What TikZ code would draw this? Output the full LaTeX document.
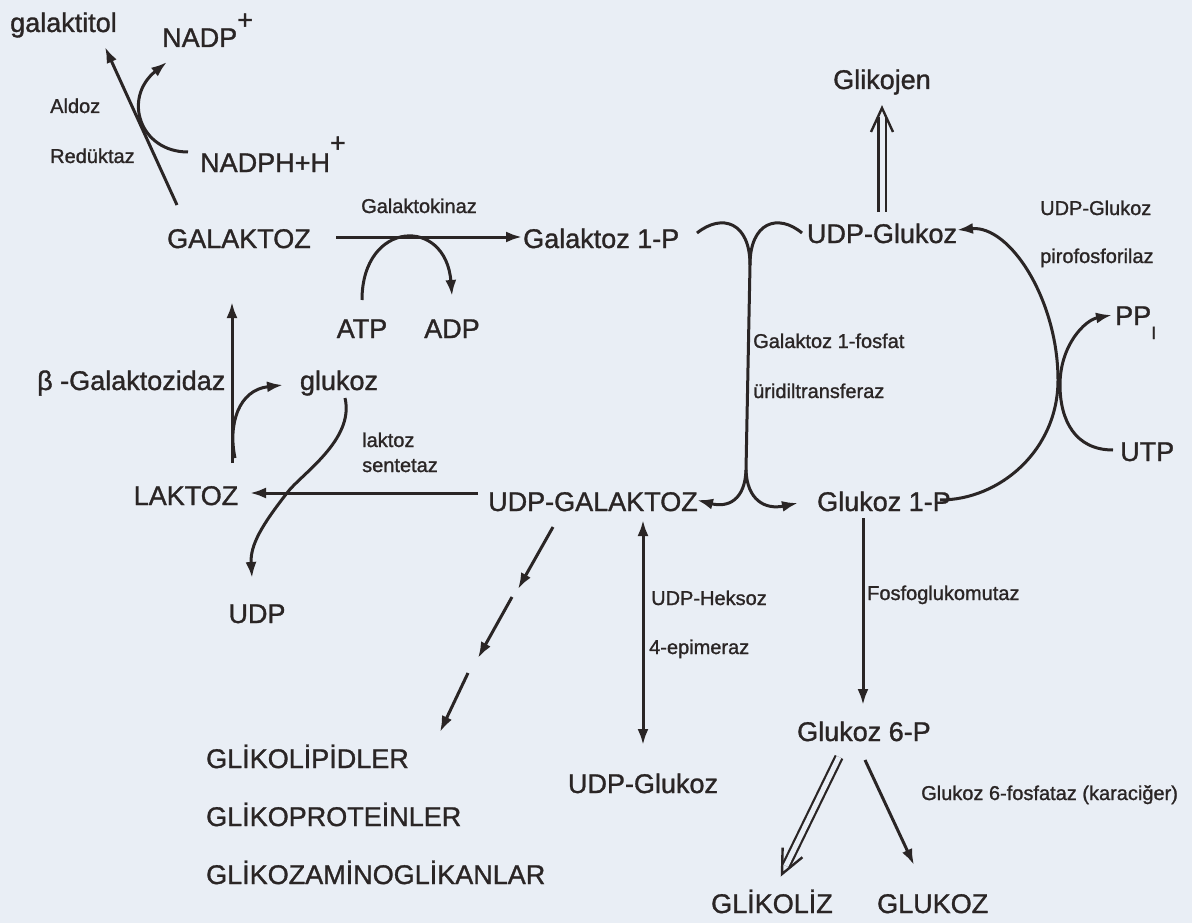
\documentclass[tikz,border=0pt]{standalone}
\usepackage{fontspec}
\setmainfont{Liberation Sans}[FakeBold=1.2]
\usetikzlibrary{arrows.meta,calc}
\definecolor{paper}{RGB}{233,238,245}
\definecolor{ink}{RGB}{42,37,37}
\begin{document}
\begin{tikzpicture}[x=1pt,y=-1pt,
  big/.style={font=\fontsize{27}{29}\selectfont, text=ink, inner sep=0pt},
  small/.style={font=\fontsize{20}{22}\selectfont, text=ink, inner sep=0pt},
  ln/.style={draw=ink, line width=3pt},
  arr/.style={ln, -{Latex[length=16pt,width=11pt]}},
  dblline/.style={draw=ink, line width=2.2pt, double=paper, double distance=5pt},
  chev/.style={draw=ink, line width=2.4pt, line join=miter},
]
\fill[paper] (0,0) rectangle (1192,923);
\useasboundingbox (0,0) rectangle (1192,923);

% ---------- texts ----------
\node[big,anchor=base west] (galaktitol) at (10,32) {galaktitol};
\node[big,anchor=base west] (nadp) at (162,47) {NADP\raisebox{18pt}{+}};
\node[small,anchor=base west] (aldoz) at (50,113) {Aldoz};
\node[small,anchor=base west] (reduktaz) at (50,163) {Redüktaz};
\node[big,anchor=base west] (nadph) at (200,172) {NADPH+H\raisebox{20pt}{+}};
\node[big,anchor=base] (glikojen) at (882,89) {Glikojen};
\node[big,anchor=base] (udpgluA) at (882,243) {UDP-Glukoz};
\node[small,anchor=base west] (pyro1) at (1040,215) {UDP-Glukoz};
\node[small,anchor=base west] (pyro2) at (1040,263) {pirofosforilaz};
\node[big,anchor=base west] (galaktoz) at (167,248) {GALAKTOZ};
\node[small,anchor=base] (gkinaz) at (419,213) {Galaktokinaz};
\node[big,anchor=base west] (gal1p) at (523,248) {Galaktoz 1-P};
\node[big,anchor=base] (atp) at (362,338) {ATP};
\node[big,anchor=base] (adp) at (452,338) {ADP};
\node[big,anchor=base west] (bgal) at (37,390) {β -Galaktozidaz};
\node[big,anchor=base] (glukoz) at (339,390) {glukoz};
\node[small,anchor=base west] (lsent1) at (362,447) {laktoz};
\node[small,anchor=base west] (lsent2) at (362,472) {sentetaz};
\node[big,anchor=base] (laktoz) at (186,505) {LAKTOZ};
\node[big,anchor=base west] (udpgal) at (488,511) {UDP-GALAKTOZ};
\node[small,anchor=base west] (gt1) at (753,348) {Galaktoz 1-fosfat};
\node[small,anchor=base west] (gt2) at (753,398) {üridiltransferaz};
\node[big,anchor=base west] (glu1p) at (817,511) {Glukoz 1-P};
\node[big,anchor=base west] (ppi) at (1115,325) {PP\raisebox{-14pt}{\fontsize{18}{18}\selectfont I}};
\node[big,anchor=base west] (utp) at (1120,461) {UTP};
\node[big,anchor=base] (udp) at (257,623) {UDP};
\node[small,anchor=base west] (ep1) at (651,605) {UDP-Heksoz};
\node[small,anchor=base west] (ep2) at (649,654) {4-epimeraz};
\node[small,anchor=base west] (pgm) at (867,600) {Fosfoglukomutaz};
\node[big,anchor=base west] (glu6p) at (797,741) {Glukoz 6-P};
\node[big,anchor=base] (udpgluB) at (643,793) {UDP-Glukoz};
\node[small,anchor=base west] (g6pase) at (921,800) {Glukoz 6-fosfataz (karaciğer)};
\node[big,anchor=base west] (glikoliz) at (711,913) {GLİKOLİZ};
\node[big,anchor=base west] (glukozB) at (877,913) {GLUKOZ};
\node[big,anchor=base west] (gl1) at (206,768) {GLİKOLİPİDLER};
\node[big,anchor=base west] (gl2) at (206,826) {GLİKOPROTEİNLER};
\node[big,anchor=base west] (gl3) at (206,884) {GLİKOZAMİNOGLİKANLAR};

% ---------- coordinates ----------
\coordinate (a1) at (177,205); \coordinate (a2) at (105,47);
\coordinate (n1) at (188,152); \coordinate (n2) at (167,62);
\coordinate (k1) at (336,237); \coordinate (k2) at (522,237);
\coordinate (atpS) at (362,300); \coordinate (adpE) at (452,296);
\coordinate (v1) at (232,463); \coordinate (v2) at (232,302);
\coordinate (b1) at (235,458); \coordinate (b2) at (283,385);
\coordinate (s1) at (345,398); \coordinate (s2) at (287,493); \coordinate (s3) at (252,578);
\coordinate (l1) at (478,493); \coordinate (l2) at (250,493);
\coordinate (d1a) at (553,527); \coordinate (d1b) at (518,589);
\coordinate (d2a) at (512,597); \coordinate (d2b) at (478,658);
\coordinate (d3a) at (468,673); \coordinate (d3b) at (440,732);
\coordinate (e1) at (643,520); \coordinate (e2) at (643,745);
\coordinate (t1) at (697,233); \coordinate (tj1) at (750,265); \coordinate (t2) at (802,233);
\coordinate (tj2) at (746,470); \coordinate (t3) at (697,500); \coordinate (t4) at (798,503);
\coordinate (c1) at (940,500); \coordinate (cm) at (1058,380); \coordinate (c3) at (957,230);
\coordinate (u1) at (1113,450); \coordinate (um) at (1060,385); \coordinate (u2) at (1112,315);
\coordinate (f1) at (863,518); \coordinate (f2) at (863,705);
\coordinate (g1) at (865,760); \coordinate (g2) at (914,865);
\coordinate (h1) at (839,757); \coordinate (h2) at (782,874);
\coordinate (j1) at (882,212); \coordinate (j2) at (882,108);

% ---------- connectors ----------
\draw[arr] (a1) -- (a2);
\draw[arr] (n1) .. controls (140,152) and (122,98) .. (n2);
\draw[arr] (k1) -- (k2);
\draw[arr] (atpS) .. controls (362,220) and (446,216) .. (adpE);
\draw[arr] (v1) -- (v2);
\draw[arr] (b1) .. controls (228,425) and (238,390) .. (b2);
\draw[arr] (s1) .. controls (355,440) and (300,475) .. (s2) .. controls (262,525) and (250,545) .. (s3);
\draw[arr] (l1) -- (l2);
\draw[arr] (d1a) -- (d1b);
\draw[arr] (d2a) -- (d2b);
\draw[arr] (d3a) -- (d3b);
\draw[ln, {Latex[length=16pt,width=11pt]}-{Latex[length=16pt,width=11pt]}] (e1) -- (e2);
\draw[ln] (t1) .. controls (722,213) and (750,222) .. (tj1);
\draw[ln] (t2) .. controls (778,213) and (750,222) .. (tj1);
\draw[ln] (tj1) -- (tj2);
\draw[arr] (tj2) .. controls (745,500) and (728,508) .. (t3);
\draw[arr] (tj2) .. controls (747,500) and (765,510) .. (t4);
\draw[arr] (c1) .. controls (1000,500) and (1058,450) .. (cm) .. controls (1058,300) and (1010,225) .. (c3);
\draw[arr] (u1) .. controls (1075,450) and (1060,420) .. (um) .. controls (1060,345) and (1085,320) .. (u2);
\draw[arr] (f1) -- (f2);
\draw[arr] (g1) -- (g2);
% double arrows with open chevron heads
\draw[dblline] (h1) -- ($(h2)!9pt!(h1)$);
\coordinate (hb) at ($(h2)!24pt!(h1)$);
\draw[chev] ($(hb)!11pt!90:(h2)$) -- (h2) -- ($(hb)!11pt!-90:(h2)$);
\draw[dblline] (j1) -- ($(j2)!9pt!(j1)$);
\coordinate (jb) at ($(j2)!24pt!(j1)$);
\draw[chev] ($(jb)!11pt!90:(j2)$) -- (j2) -- ($(jb)!11pt!-90:(j2)$);
\end{tikzpicture}
\end{document}
